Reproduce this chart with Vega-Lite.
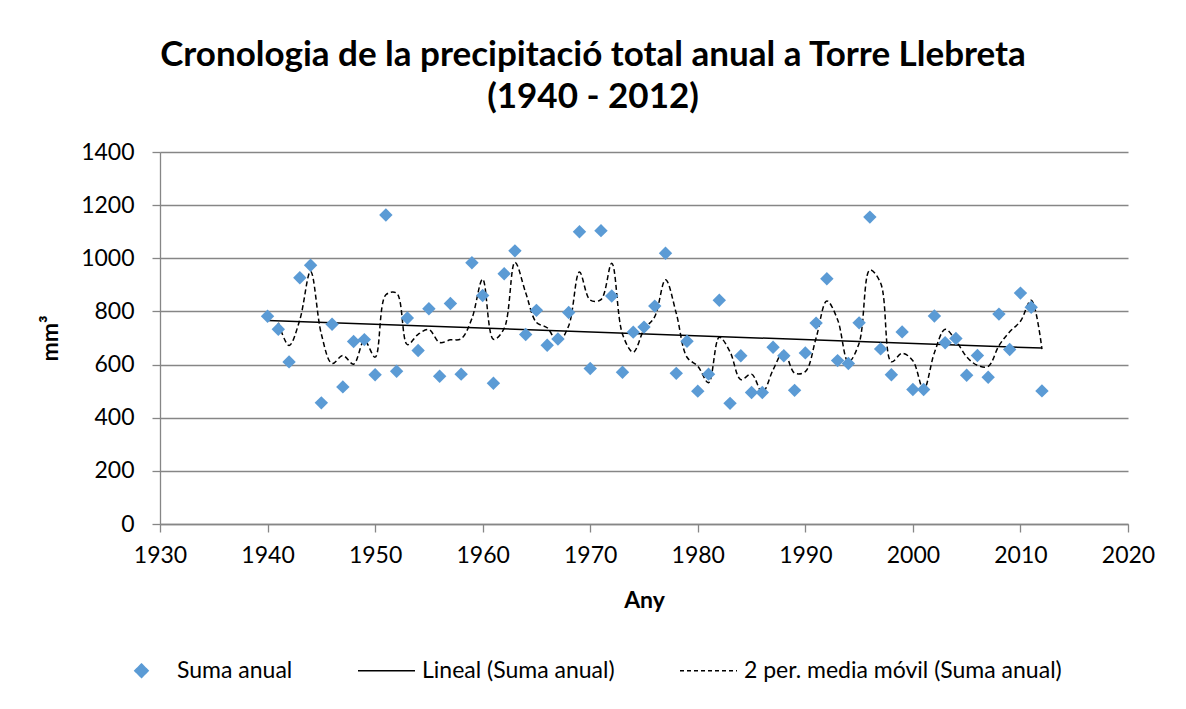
{
  "$schema": "https://vega.github.io/schema/vega-lite/v6.json",
  "autosize": "none",
  "width": 968,
  "height": 372,
  "padding": {"left": 160, "top": 152, "right": 58, "bottom": 185},
  "background": "white",
  "config": {
    "font": "Lato",
    "view": {"stroke": null},
    "axis": {"labelFont": "Lato", "titleFont": "Lato", "labelColor": "#000000", "titleColor": "#000000"}
  },
  "title": {
    "text": ["Cronologia de la precipitació total anual a Torre Llebreta", "(1940 - 2012)"],
    "anchor": "middle",
    "dx": -51,
    "font": "Lato",
    "fontSize": 35,
    "fontWeight": "bold",
    "color": "#000000",
    "lineHeight": 42,
    "offset": 26
  },
  "datasets": {
    "anual": [
      {"any": 1940, "mm": 782, "serie": "Suma anual"}, {"any": 1941, "mm": 733, "serie": "Suma anual"}, {"any": 1942, "mm": 610, "serie": "Suma anual"}, {"any": 1943, "mm": 927, "serie": "Suma anual"},
      {"any": 1944, "mm": 974, "serie": "Suma anual"}, {"any": 1945, "mm": 456, "serie": "Suma anual"}, {"any": 1946, "mm": 752, "serie": "Suma anual"}, {"any": 1947, "mm": 516, "serie": "Suma anual"},
      {"any": 1948, "mm": 687, "serie": "Suma anual"}, {"any": 1949, "mm": 694, "serie": "Suma anual"}, {"any": 1950, "mm": 562, "serie": "Suma anual"}, {"any": 1951, "mm": 1163, "serie": "Suma anual"},
      {"any": 1952, "mm": 575, "serie": "Suma anual"}, {"any": 1953, "mm": 775, "serie": "Suma anual"}, {"any": 1954, "mm": 653, "serie": "Suma anual"}, {"any": 1955, "mm": 810, "serie": "Suma anual"},
      {"any": 1956, "mm": 556, "serie": "Suma anual"}, {"any": 1957, "mm": 830, "serie": "Suma anual"}, {"any": 1958, "mm": 564, "serie": "Suma anual"}, {"any": 1959, "mm": 983, "serie": "Suma anual"},
      {"any": 1960, "mm": 860, "serie": "Suma anual"}, {"any": 1961, "mm": 530, "serie": "Suma anual"}, {"any": 1962, "mm": 942, "serie": "Suma anual"}, {"any": 1963, "mm": 1028, "serie": "Suma anual"},
      {"any": 1964, "mm": 713, "serie": "Suma anual"}, {"any": 1965, "mm": 804, "serie": "Suma anual"}, {"any": 1966, "mm": 673, "serie": "Suma anual"}, {"any": 1967, "mm": 696, "serie": "Suma anual"},
      {"any": 1968, "mm": 796, "serie": "Suma anual"}, {"any": 1969, "mm": 1100, "serie": "Suma anual"}, {"any": 1970, "mm": 585, "serie": "Suma anual"}, {"any": 1971, "mm": 1104, "serie": "Suma anual"},
      {"any": 1972, "mm": 858, "serie": "Suma anual"}, {"any": 1973, "mm": 571, "serie": "Suma anual"}, {"any": 1974, "mm": 722, "serie": "Suma anual"}, {"any": 1975, "mm": 741, "serie": "Suma anual"},
      {"any": 1976, "mm": 820, "serie": "Suma anual"}, {"any": 1977, "mm": 1019, "serie": "Suma anual"}, {"any": 1978, "mm": 567, "serie": "Suma anual"}, {"any": 1979, "mm": 688, "serie": "Suma anual"},
      {"any": 1980, "mm": 500, "serie": "Suma anual"}, {"any": 1981, "mm": 564, "serie": "Suma anual"}, {"any": 1982, "mm": 842, "serie": "Suma anual"}, {"any": 1983, "mm": 454, "serie": "Suma anual"},
      {"any": 1984, "mm": 633, "serie": "Suma anual"}, {"any": 1985, "mm": 495, "serie": "Suma anual"}, {"any": 1986, "mm": 495, "serie": "Suma anual"}, {"any": 1987, "mm": 665, "serie": "Suma anual"},
      {"any": 1988, "mm": 633, "serie": "Suma anual"}, {"any": 1989, "mm": 503, "serie": "Suma anual"}, {"any": 1990, "mm": 644, "serie": "Suma anual"}, {"any": 1991, "mm": 756, "serie": "Suma anual"},
      {"any": 1992, "mm": 923, "serie": "Suma anual"}, {"any": 1993, "mm": 615, "serie": "Suma anual"}, {"any": 1994, "mm": 604, "serie": "Suma anual"}, {"any": 1995, "mm": 757, "serie": "Suma anual"},
      {"any": 1996, "mm": 1155, "serie": "Suma anual"}, {"any": 1997, "mm": 659, "serie": "Suma anual"}, {"any": 1998, "mm": 562, "serie": "Suma anual"}, {"any": 1999, "mm": 723, "serie": "Suma anual"},
      {"any": 2000, "mm": 506, "serie": "Suma anual"}, {"any": 2001, "mm": 506, "serie": "Suma anual"}, {"any": 2002, "mm": 783, "serie": "Suma anual"}, {"any": 2003, "mm": 682, "serie": "Suma anual"},
      {"any": 2004, "mm": 698, "serie": "Suma anual"}, {"any": 2005, "mm": 560, "serie": "Suma anual"}, {"any": 2006, "mm": 634, "serie": "Suma anual"}, {"any": 2007, "mm": 552, "serie": "Suma anual"},
      {"any": 2008, "mm": 790, "serie": "Suma anual"}, {"any": 2009, "mm": 657, "serie": "Suma anual"}, {"any": 2010, "mm": 869, "serie": "Suma anual"}, {"any": 2011, "mm": 816, "serie": "Suma anual"},
      {"any": 2012, "mm": 501, "serie": "Suma anual"}
    ],
    "lineal": [
      {"any": 1940, "mm": 766, "serie": "Lineal (Suma anual)"}, {"any": 2012, "mm": 662, "serie": "Lineal (Suma anual)"}
    ],
    "mitjana": [
      {"any": 1941, "mm": 757.5}, {"any": 1942, "mm": 671.5}, {"any": 1943, "mm": 768.5}, {"any": 1944, "mm": 950.5},
      {"any": 1945, "mm": 715}, {"any": 1946, "mm": 604}, {"any": 1947, "mm": 634}, {"any": 1948, "mm": 601.5},
      {"any": 1949, "mm": 690.5}, {"any": 1950, "mm": 628}, {"any": 1951, "mm": 862.5}, {"any": 1952, "mm": 869},
      {"any": 1953, "mm": 675}, {"any": 1954, "mm": 714}, {"any": 1955, "mm": 731.5}, {"any": 1956, "mm": 683},
      {"any": 1957, "mm": 693}, {"any": 1958, "mm": 697}, {"any": 1959, "mm": 773.5}, {"any": 1960, "mm": 921.5},
      {"any": 1961, "mm": 695}, {"any": 1962, "mm": 736}, {"any": 1963, "mm": 985}, {"any": 1964, "mm": 870.5},
      {"any": 1965, "mm": 758.5}, {"any": 1966, "mm": 738.5}, {"any": 1967, "mm": 684.5}, {"any": 1968, "mm": 746},
      {"any": 1969, "mm": 948}, {"any": 1970, "mm": 842.5}, {"any": 1971, "mm": 844.5}, {"any": 1972, "mm": 981},
      {"any": 1973, "mm": 714.5}, {"any": 1974, "mm": 646.5}, {"any": 1975, "mm": 731.5}, {"any": 1976, "mm": 780.5},
      {"any": 1977, "mm": 919.5}, {"any": 1978, "mm": 793}, {"any": 1979, "mm": 627.5}, {"any": 1980, "mm": 594},
      {"any": 1981, "mm": 532}, {"any": 1982, "mm": 703}, {"any": 1983, "mm": 648}, {"any": 1984, "mm": 543.5},
      {"any": 1985, "mm": 564}, {"any": 1986, "mm": 495}, {"any": 1987, "mm": 580}, {"any": 1988, "mm": 649},
      {"any": 1989, "mm": 568}, {"any": 1990, "mm": 573.5}, {"any": 1991, "mm": 700}, {"any": 1992, "mm": 839.5},
      {"any": 1993, "mm": 769}, {"any": 1994, "mm": 609.5}, {"any": 1995, "mm": 680.5}, {"any": 1996, "mm": 956},
      {"any": 1997, "mm": 907}, {"any": 1998, "mm": 610.5}, {"any": 1999, "mm": 642.5}, {"any": 2000, "mm": 614.5},
      {"any": 2001, "mm": 506}, {"any": 2002, "mm": 644.5}, {"any": 2003, "mm": 732.5}, {"any": 2004, "mm": 690},
      {"any": 2005, "mm": 629}, {"any": 2006, "mm": 597}, {"any": 2007, "mm": 593}, {"any": 2008, "mm": 671},
      {"any": 2009, "mm": 723.5}, {"any": 2010, "mm": 763}, {"any": 2011, "mm": 842.5}, {"any": 2012, "mm": 658.5}
    ]
  },
  "layer": [
    {
      "data": {"name": "lineal"},
      "mark": {"type": "line", "strokeWidth": 1.5},
      "encoding": {
        "x": {
          "field": "any", "type": "quantitative",
          "scale": {"domain": [1930, 2020], "nice": false, "zero": false},
          "axis": {
            "title": "Any", "values": [1930, 1940, 1950, 1960, 1970, 1980, 1990, 2000, 2010, 2020], "format": "d",
            "grid": false, "domainColor": "#868686", "domainWidth": 1.3, "tickColor": "#868686", "tickWidth": 1.3, "tickSize": 8,
            "labelFontSize": 23, "labelPadding": 12, "titleFontSize": 23, "titleFontWeight": "bold", "titlePadding": 22, "labelFlush": false
          }
        },
        "y": {
          "field": "mm", "type": "quantitative",
          "scale": {"domain": [0, 1400], "nice": false},
          "axis": {
            "title": "mm³", "values": [0, 200, 400, 600, 800, 1000, 1200, 1400], "format": "d",
            "grid": true, "gridColor": "#868686", "gridWidth": 1.3,
            "domainColor": "#868686", "domainWidth": 1.3, "tickColor": "#868686", "tickWidth": 1.3, "tickSize": 8,
            "labelFontSize": 23, "labelPadding": 18, "titleFontSize": 23, "titleFontWeight": "bold", "titlePadding": 18
          }
        },
        "color": {
          "field": "serie", "type": "nominal",
          "scale": {
            "domain": ["Suma anual", "Lineal (Suma anual)", "2 per. media móvil (Suma anual)"],
            "range": ["#5B9BD5", "#000000", "#000000"]
          },
          "legend": {
            "title": null,
            "orient": "none",
            "direction": "horizontal",
            "legendX": -48,
            "legendY": 489,
            "padding": 0,
            "symbolSize": 3249,
            "symbolType": "stroke",
            "labelFontSize": 23,
            "labelFont": "Lato",
            "labelColor": "#000000",
            "labelOffset": 6,
            "columnPadding": 62,
            "labelLimit": 600,
            "encode": {
              "symbols": {
                "update": {
                  "shape": {"signal": "datum.value === 'Suma anual' ? 'diamond' : 'stroke'"},
                  "size": {"signal": "datum.value === 'Suma anual' ? 180 : 3249"},
                  "fill": {"signal": "datum.value === 'Suma anual' ? '#5B9BD5' : 'transparent'"},
                  "stroke": {"signal": "datum.value === 'Suma anual' ? 'transparent' : '#000000'"},
                  "strokeWidth": {"signal": "1.5"},
                  "strokeDash": {"signal": "datum.value === 'Suma anual' || datum.value === 'Lineal (Suma anual)' ? [1, 0] : [4, 3]"}
                }
              }
            }
          }
        }
      }
    },
    {
      "data": {"name": "mitjana"},
      "mark": {"type": "line", "strokeWidth": 1.5, "strokeDash": [5, 3], "interpolate": "catmull-rom", "color": "#000000"},
      "encoding": {
        "x": {"field": "any", "type": "quantitative"},
        "y": {"field": "mm", "type": "quantitative"}
      }
    },
    {
      "data": {"name": "anual"},
      "mark": {"type": "point", "shape": "diamond", "filled": true, "size": 180, "opacity": 1},
      "encoding": {
        "x": {"field": "any", "type": "quantitative"},
        "y": {"field": "mm", "type": "quantitative"},
        "color": {"field": "serie", "type": "nominal"}
      }
    }
  ]
}
